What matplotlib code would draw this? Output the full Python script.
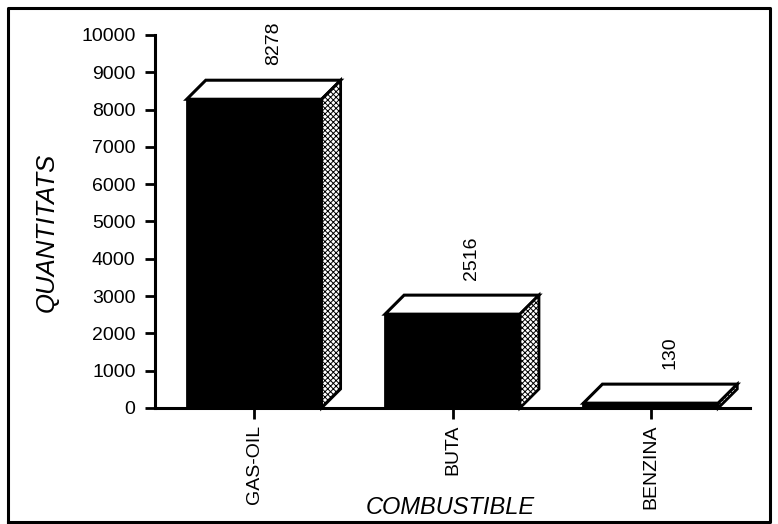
import matplotlib
matplotlib.use("Agg")
import matplotlib.pyplot as plt
from matplotlib.patches import Polygon, Rectangle
from matplotlib.lines import Line2D

plt.rcParams['font.family'] = ['Liberation Sans', 'DejaVu Sans']
plt.rcParams['hatch.linewidth'] = 0.7

# data
categories = ['GAS-OIL', 'BUTA', 'BENZINA']
values = [8278, 2516, 130]
yticks = [0, 1000, 2000, 3000, 4000, 5000, 6000, 7000, 8000, 9000, 10000]

# 3d look
bar_w = 0.68
dx = 0.096   # depth in x units
dy = 510     # depth in value units

fig = plt.figure(figsize=(7.78, 5.24), dpi=100)
ax = fig.add_axes([155/778, 1 - 408/524, (750-155)/778, (408-35)/524])

for i, v in enumerate(values):
    x0 = i - bar_w/2
    x1 = i + bar_w/2
    # front face
    ax.add_patch(Rectangle((x0, 0), bar_w, v, facecolor='black', edgecolor='black',
                           linewidth=2, zorder=3, clip_on=False))
    # top face
    top = [(x0, v), (x0+dx, v+dy), (x1+dx, v+dy), (x1, v)]
    ax.add_patch(Polygon(top, closed=True, facecolor='white', edgecolor='black',
                         linewidth=2.2, joinstyle='miter', zorder=3, clip_on=False))
    # side face
    side = [(x1, 0), (x1+dx, dy), (x1+dx, v+dy), (x1, v)]
    ax.add_patch(Polygon(side, closed=True, facecolor='white', edgecolor='black',
                         hatch='xxxxxx', linewidth=2, zorder=3, clip_on=False))
    # value label
    ax.annotate(str(v), xy=(i+dx, v+dy), xytext=(0, 11), textcoords='offset points',
                rotation=90, ha='center', va='bottom', fontsize=14)

ax.set_xlim(-0.5, 2.5)
ax.set_ylim(0, 10000)
ax.set_yticks(yticks)
ax.set_yticklabels([str(t) for t in yticks], fontsize=14)
ax.set_xticks(range(len(categories)))
ax.set_xticklabels(categories, rotation=90, fontsize=14, va='top')

ax.spines['top'].set_visible(False)
ax.spines['right'].set_visible(False)
ax.spines['left'].set_linewidth(2.2)
ax.spines['bottom'].set_linewidth(2.2)
ax.tick_params(axis='y', direction='out', length=7, width=2, pad=7)
ax.tick_params(axis='x', direction='out', length=8, width=2, pad=4)
ax.patch.set_alpha(0)

fig.text(47/778, 1 - 232/524, 'QUANTITATS', rotation=90, ha='center', va='center',
         fontsize=18.5, style='italic')
fig.text(450/778, 1 - 507/524, 'COMBUSTIBLE', ha='center', va='center',
         fontsize=17, style='italic')

# outer frame
fx0, fx1 = 8/778, 770/778
fy0, fy1 = 1 - 522/524, 1 - 8/524
fig.add_artist(Line2D([fx0, fx0, fx1, fx1, fx0], [fy0, fy1, fy1, fy0, fy0],
                      color='black', linewidth=2.2))

plt.savefig('out.png', dpi=100)
